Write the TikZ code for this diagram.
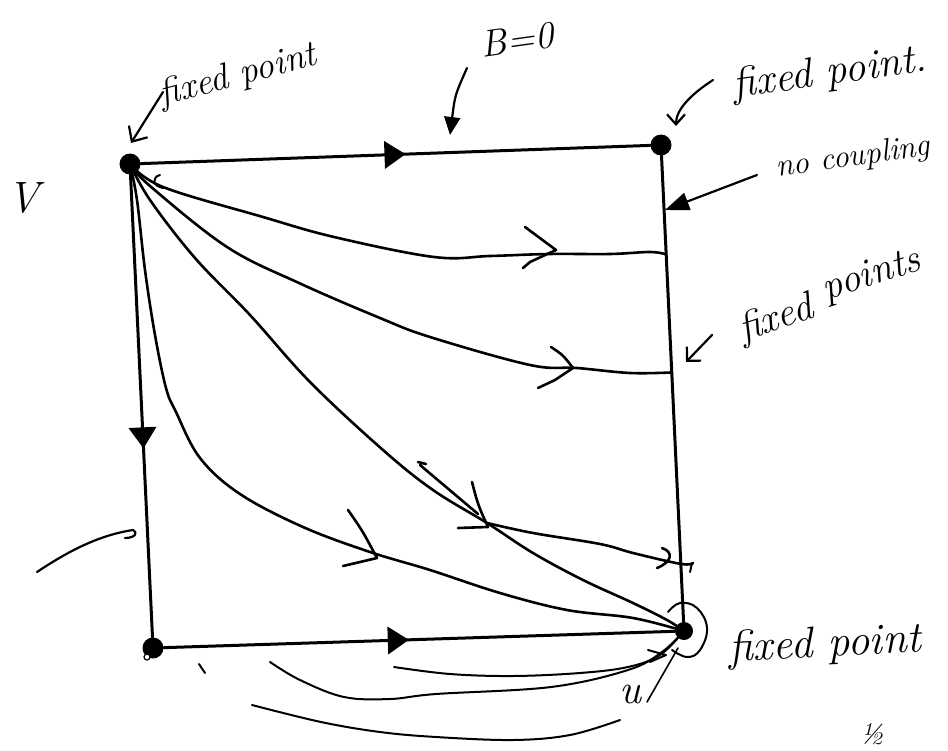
\documentclass[tikz,border=0pt]{standalone}
\usepackage{fontspec}
\usetikzlibrary{decorations.markings,arrows.meta,calc}
\newcommand\handsize[1]{\fontsize{#1}{#1}\selectfont\itshape}
\tikzset{
  edge/.style={line width=3bp, line cap=round, line join=round},
  flow/.style={line width=2.6bp, line cap=round, line join=round},
  thinflow/.style={line width=2bp, line cap=round, line join=round},
  chev/.style={line width=2.6bp, line cap=round, line join=round},
  fp/.style={circle, fill, inner sep=0pt, minimum size=21bp},
  hand/.style={inner sep=0pt},
  note/.style={line width=2.2bp, line cap=round, line join=round},
  tri/.style={postaction={decorate}, decoration={markings,
      mark=at position #1 with {\fill (10,0) -- (-11,14) -- (-11,-14) -- cycle;}}},
}
\begin{document}
\begin{tikzpicture}[x=1bp, y=-1bp]
\useasboundingbox (0,0) rectangle (948,751);

% corners of the square: the four fixed points
\node[fp] (TL) at (130,164) {};
\node[fp] (TR) at (661,145) {};
\node[fp] (BL) at (153,648) {};
\node[fp, minimum size=18bp] (BR) at (684,631) {};

% edges of the square with their flow arrows
\draw[edge, tri=0.5] (TL) -- (TR);
\draw[edge] (TR) -- (BR);
\draw[edge, tri=0.57] (TL) -- (BL);
\draw[edge, tri=0.46] (BL) -- (BR);

% points where flow lines meet the right edge
\coordinate (r1) at ($(TR)!0.225!(BR)$);
\coordinate (r2) at ($(TR)!0.468!(BR)$);
\coordinate (r3) at ($(TR)!0.862!(BR)$);

% flow lines leaving the upper-left fixed point
\draw[flow] plot[smooth, tension=0.6] coordinates {(TL) (163,187) (263,217) (334,237) (434,257) (490,256) (549,254) (610,254) (650,252) (r1)};
\draw[flow] plot[smooth, tension=0.6] coordinates {(TL) (150,186) (227,247) (299,283) (380,318) (430,337) (530,365) (577,368) (630,373) (r2)};
\coordinate (K3) at (487,523);
\draw[flow] plot[smooth, tension=0.6] coordinates {(TL) (150,200) (195,258) (250,315) (310,382) (383,450) (433,490) (K3) (533,553) (583,580) (633,603) (667,620) (BR)};
\draw[flow] plot[smooth, tension=0.6] coordinates {(TL) (137,200) (145,270) (155,335) (166,388) (176,412) (200,458) (240,494) (303,527) (370,552) (430,570) (500,593) (567,610) (633,618) (BR)};
\draw[flow] plot[smooth, tension=0.6] coordinates {(K3) (533,533) (600,544) (633,553) (r3) (693,563)};

% hand-drawn chevrons on the flow lines
\draw[chev] (525,227) .. controls (540,238) .. (556,250) -- (530,262) -- (523,268);
\draw[chev] (551,347) .. controls (563,355) .. (573,368) -- (555,380) -- (538,388);
\draw[chev] (472,482) .. controls (478,505) .. (488,527) -- (458,528);
\draw[chev] (418,462) -- (426,464) (420,465) -- (478,514);
\draw[chev] (348,510) .. controls (362,530) .. (377,558) -- (343,566);
\draw[chev] (662,548) .. controls (674,552) and (672,562) .. (657,568);
\draw[thinflow] (692,563) -- (690,572);
\draw[thinflow] (160,175) .. controls (152,177) and (152,186) .. (163,188);

% flow lines running under the lower edge
\coordinate (b1s) at (394,667);
\coordinate (b2s) at (270,662);
\coordinate (b3s) at (252,705);
\coordinate (b3e) at (620,720);
\draw[thinflow] plot[smooth, tension=0.6] coordinates {(b1s) (450,674) (513,676) (580,673) (628,667) (660,655) (BR)};
\draw[thinflow] plot[smooth, tension=0.6] coordinates {(b2s) (300,680) (344,697) (390,699) (436,694) (551,687) (628,670) (662,652) (BR)};
\draw[thinflow] plot[smooth, tension=0.6] coordinates {(b3s) (321,722) (380,732) (436,737) (513,740) (570,735) (b3e)};
\draw[thinflow] (648,650) -- (666,655) -- (650,662);

% loop round the lower-right fixed point
\draw[thinflow] plot[smooth, tension=0.7] coordinates {(668,612) (680,603) (697,608) (707,628) (700,650) (687,657) (672,650)};
\draw[line width=1.2bp, fill=white] (147,657) circle[radius=3bp];
\draw[thinflow] (199,664) -- (205,673);

% labels
\node[hand, font=\handsize{37}, rotate=15] (tlab) at (238,76) {fixed point};
\node[hand, font=\handsize{38}, rotate=8] (blab) at (517,40) {B=0};
\node[hand, font=\handsize{42}, rotate=8] (trlab) at (830,74) {fixed point.};
\node[hand, font=\handsize{32}, rotate=8] (nclab) at (853,158) {no coupling};
\node[hand, font=\handsize{40}, rotate=18] (fplab1) at (776,320) {fixed};
\node[hand, font=\handsize{40}, rotate=18] (fplab2) at (872,276) {points};
\node[hand, font=\handsize{44}, rotate=3] (brlab) at (825,646) {fixed point};
\node[hand, font=\handsize{44}] (vlab) at (23,198) {V};
\node[hand, font=\handsize{42}] (ulab) at (630,694) {u};
\node[hand, font=\handsize{30}, anchor=base] (hlab) at (872,744) {½};

% annotation arrows
\coordinate (a0) at (163,92);  \coordinate (a1) at (131,143);
\draw[note, -{Straight Barb[length=12bp,width=22bp]}] (a0) -- (a1);
\coordinate (bz0) at (467,68); \coordinate (bz1) at (450,135);
\draw[note, -{Triangle[length=18bp,width=16bp]}] (bz0) .. controls (455,95) .. (bz1);
\coordinate (c0) at (713,80); \coordinate (c1) at (676,126);
\draw[note, -{Straight Barb[length=10bp,width=18bp]}] (c0) .. controls (690,95) and (676,110) .. (c1);
\coordinate (n0) at (757,175); \coordinate (n1) at (665,210);
\draw[note, -{Triangle[length=24bp,width=18bp]}] (n0) -- (n1);
\coordinate (f0) at (712,335); \coordinate (f1) at (686,362);
\draw[note, -{Straight Barb[length=10bp,width=20bp]}] (f0) -- (f1);
\coordinate (l0) at (37,572); \coordinate (l1) at (133,530);
\draw[note] (l0) .. controls (70,550) and (100,535) .. (l1) .. controls (138,532) and (136,538) .. (125,538);
\coordinate (u0) at (647,702); \coordinate (u1) at (678,648);
\draw[line width=1.6bp, line cap=round] (u0) -- (u1);
\end{tikzpicture}
\end{document}
